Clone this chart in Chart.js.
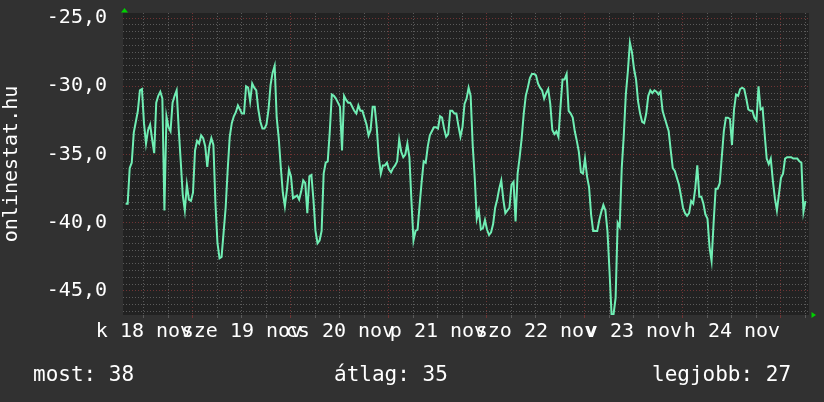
<!DOCTYPE html>
<html>
<head>
<meta charset="utf-8">
<script src="https://cdn.jsdelivr.net/npm/chart.js@4.4.1/dist/chart.umd.min.js"></script>
<style>
  html, body { margin: 0; padding: 0; background: #313131; }
  #wrap { position: relative; width: 824px; height: 402px; overflow: hidden; }
  canvas { display: block; }
  .stat { position: absolute; top: 362px; font: 21px 'DejaVu Sans Mono', monospace; line-height: 24px; color: #ffffff; white-space: pre; }
</style>
</head>
<body>
<div id="wrap">
  <canvas id="chart" width="824" height="402"></canvas>
</div>
<script>
// one sample every 30 minutes, hours counted from midnight before "18 nov"
const startHour = -16.5;
const stepHours = 0.5;

const values = [
  -38.6, -38.6, -36.0, -35.6, -33.4, -32.6, -31.8, -30.3, -30.2, -32.7,
  -34.2, -33.2, -32.8, -33.9, -34.9, -31.2, -30.7, -30.4, -30.9, -39.1,
  -32.2, -33.0, -33.3, -31.2, -30.7, -30.3, -33.1, -35.5, -38.0, -39.1,
  -37.2, -38.3, -38.4, -37.8, -34.7, -34.0, -34.2, -33.6, -33.8, -34.4,
  -35.9, -34.4, -33.8, -34.3, -38.6, -41.5, -42.6, -42.5, -40.7, -38.9,
  -36.1, -33.7, -32.7, -32.2, -31.9, -31.4, -31.7, -32.0, -32.0, -30.0,
  -30.1, -31.1, -29.8, -30.1, -30.3, -31.7, -32.6, -33.1, -33.1, -32.8,
  -31.7, -29.9, -29.0, -28.5, -32.3, -33.8, -35.9, -37.8, -38.8, -37.6,
  -36.1, -36.6, -38.2, -38.1, -38.0, -38.3, -37.7, -36.9, -37.1, -39.3,
  -36.6, -36.5, -38.3, -40.6, -41.5, -41.3, -40.6, -36.4, -35.6, -35.5,
  -33.3, -30.6, -30.7, -30.9, -31.2, -31.5, -34.7, -30.7, -31.0, -31.2,
  -31.2, -31.5, -31.8, -32.0, -31.4, -31.8, -31.8, -32.3, -32.8, -33.6,
  -33.2, -31.5, -31.5, -33.0, -35.2, -36.4, -35.8, -35.8, -35.6, -36.1,
  -36.3, -36.0, -35.8, -35.5, -33.9, -34.8, -35.2, -35.0, -34.2, -35.2,
  -38.4, -41.3, -40.6, -40.5, -38.7, -37.0, -35.5, -35.6, -34.4, -33.6,
  -33.3, -33.0, -33.0, -33.1, -32.2, -32.3, -33.1, -33.7, -33.5, -31.8,
  -31.8, -32.0, -32.0, -32.9, -33.7,
  -33.0, -31.3, -30.9, -30.1, -30.7, -34.3, -36.7, -39.7, -39.1, -40.5,
  -40.4, -39.8, -40.5, -40.9, -40.7, -40.1, -38.9, -38.3, -37.5, -36.9,
  -38.3, -39.3, -39.1, -38.9, -37.2, -37.0, -39.9, -36.4, -35.2, -33.8,
  -32.0, -30.7, -30.1, -29.4, -29.1, -29.1, -29.2, -29.8, -30.1, -30.3,
  -30.9, -30.5, -30.2, -31.3, -33.2, -33.5, -33.3, -33.7, -31.5, -29.5,
  -29.5, -29.1, -31.8, -32.0, -32.3, -33.3, -34.0, -34.8, -36.3, -36.4,
  -35.3, -36.6, -37.4, -39.4, -40.6, -40.6, -40.6, -39.8, -39.2, -38.7,
  -39.1, -40.6, -43.5, -46.7, -46.7, -45.5, -40.0, -40.3, -36.0, -33.6,
  -30.6, -28.9, -26.8, -27.5, -28.7, -29.5, -31.1, -32.0, -32.6, -32.7,
  -32.0, -30.7, -30.3, -30.5, -30.3, -30.4, -30.6, -30.4, -31.8, -32.3,
  -32.8, -33.3, -34.7, -36.0, -36.2, -36.7, -37.2, -38.0, -38.9, -39.3,
  -39.5, -39.3, -38.4, -38.6, -37.5, -35.8, -38.1, -38.1, -38.6, -39.4,
  -39.7, -41.8, -42.8, -40.0, -37.5, -37.5, -37.1, -35.2, -33.3, -32.3,
  -32.3, -32.4, -34.3, -31.7, -30.6, -30.7, -30.2, -30.1, -30.2, -30.9,
  -31.7, -31.8, -31.8, -32.3, -32.5, -30.0, -31.7, -31.6, -33.5, -35.3,
  -35.7, -35.3, -36.9, -38.2, -39.1, -37.9, -36.7, -36.4, -35.3, -35.2,
  -35.2, -35.2, -35.3, -35.3, -35.3, -35.5, -35.6, -39.2, -38.4
];

const dayLabels = ['k 18 nov', 'sze 19 nov', 'cs 20 nov', 'p 21 nov', 'szo 22 nov', 'v 23 nov', 'h 24 nov'];
const statNames = ['most', 'átlag', 'legjobb'];
const statValues = [38, 35, 27];
const statLeft = [33, 334, 652];

const FONT = "'DejaVu Sans Mono', monospace";
const MAJOR = '#703434';
const MINOR = '#5a5a5a';

statNames.forEach((name, i) => {
  const d = document.createElement('div');
  d.className = 'stat';
  d.style.left = statLeft[i] + 'px';
  d.textContent = name + ': ' + statValues[i];
  document.getElementById('wrap').appendChild(d);
});

const frame = {
  id: 'frame',
  beforeDraw(chart) {
    const { ctx, chartArea: a } = chart;
    ctx.save();
    ctx.fillStyle = '#313131';
    ctx.fillRect(0, 0, chart.width, chart.height);
    ctx.fillStyle = '#222222';
    ctx.fillRect(a.left, a.top, a.right - a.left, a.bottom - a.top);
    ctx.restore();
  },
  afterDraw(chart) {
    const { ctx, chartArea: a } = chart;
    ctx.save();
    ctx.fillStyle = '#00d000';
    ctx.beginPath();
    ctx.moveTo(a.left + 1.5, a.top - 5);
    ctx.lineTo(a.left + 5, a.top - 0.5);
    ctx.lineTo(a.left - 2, a.top - 0.5);
    ctx.closePath();
    ctx.fill();
    ctx.beginPath();
    ctx.moveTo(a.right + 7, a.bottom);
    ctx.lineTo(a.right + 2.5, a.bottom - 3);
    ctx.lineTo(a.right + 2.5, a.bottom + 3);
    ctx.closePath();
    ctx.fill();
    ctx.restore();
  }
};

new Chart(document.getElementById('chart'), {
  type: 'line',
  data: {
    datasets: [{
      data: values.map((v, i) => ({ x: startHour + i * stepHours, y: v })),
      borderColor: '#70eeb4',
      borderWidth: 2,
      pointRadius: 0,
      tension: 0,
      fill: false,
    }],
  },
  options: {
    responsive: false,
    animation: false,
    layout: { padding: { left: 0, right: 15, top: 13, bottom: 0 } },
    plugins: { legend: { display: false }, tooltip: { enabled: false } },
    scales: {
      x: {
        type: 'linear',
        min: -17.14,
        max: 150.86,
        afterBuildTicks: s => {
          s.ticks = [];
          for (let h = -12; h <= 150; h += 6) s.ticks.push({ value: h });
        },
        afterFit: s => {
          s.height = 87;
          s.paddingLeft = 0;
          s.paddingRight = 0;
        },
        grid: {
          color: c => (c.tick && c.tick.value % 24 === 0 ? MAJOR : MINOR),
          tickColor: c => (c.tick && c.tick.value % 24 === 0 ? MAJOR : MINOR),
          tickLength: 3,
        },
        border: { display: false, dash: [1, 2] },
        ticks: {
          autoSkip: false,
          maxRotation: 0,
          minRotation: 0,
          color: '#ffffff',
          font: { family: FONT, size: 20 },
          padding: 2,
          callback: v => ((v + 12) % 24 === 0 ? dayLabels[(v + 12) / 24] : ''),
        },
      },
      y: {
        min: -46.76,
        max: -24.63,
        afterBuildTicks: s => {
          s.ticks = [];
          for (let v = -46.5; v <= -25; v += 0.5) s.ticks.push({ value: v });
        },
        afterFit: s => {
          s.width = 123;
          s.paddingTop = 0;
          s.paddingBottom = 0;
        },
        grid: {
          color: c => (c.tick && c.tick.value % 5 === 0 ? MAJOR : MINOR),
          drawTicks: false,
        },
        border: { display: false, dash: [1, 2] },
        ticks: {
          autoSkip: false,
          color: '#ffffff',
          font: { family: FONT, size: 20 },
          padding: 16,
          callback: v => (v % 5 === 0 ? v.toFixed(1).replace('.', ',') : ''),
        },
        title: {
          display: true,
          text: 'onlinestat.hu',
          color: '#ffffff',
          font: { family: FONT, size: 20 },
          padding: { top: 0, bottom: 0 },
        },
      },
    },
  },
  plugins: [frame],
});
</script>
</body>
</html>
